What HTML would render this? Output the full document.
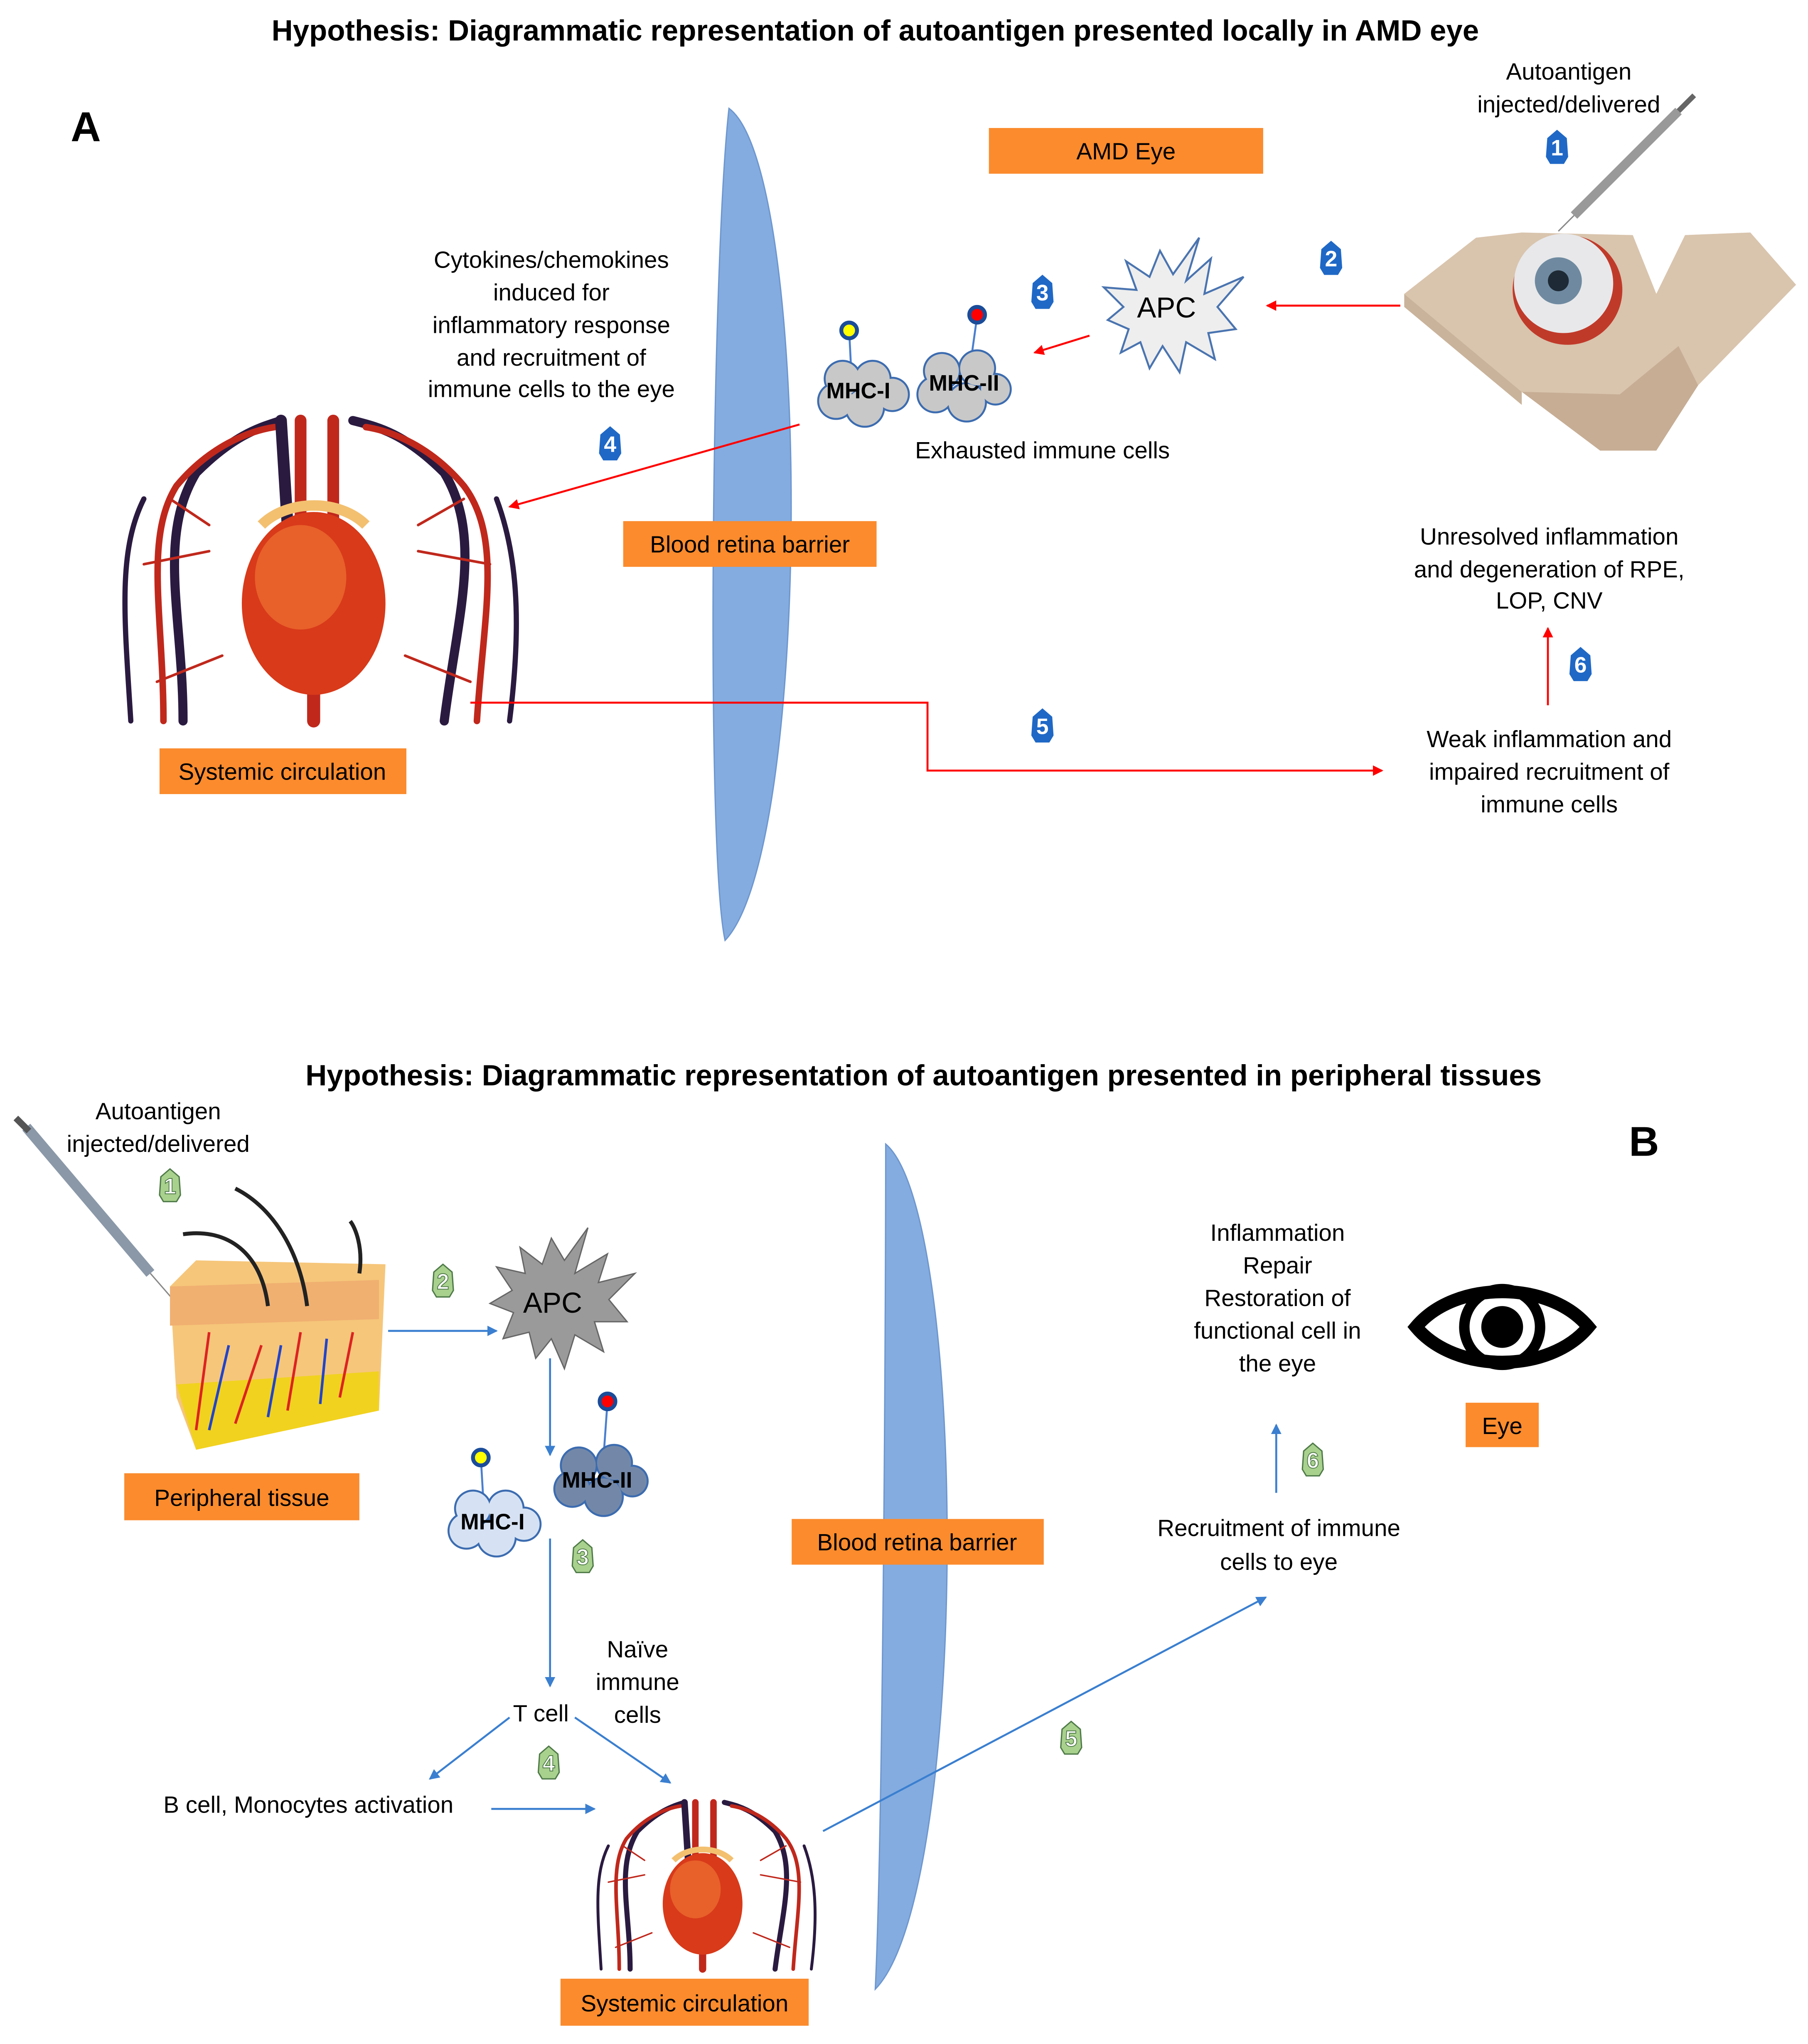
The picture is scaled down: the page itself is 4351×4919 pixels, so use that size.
<!DOCTYPE html>
<html><head><meta charset="utf-8"><style>html,body{margin:0;padding:0;background:#fff}svg{display:block}text{font-family:"Liberation Sans",sans-serif}</style></head>
<body>
<svg width="4351" height="4919" viewBox="0 0 1384 1565" xmlns="http://www.w3.org/2000/svg">
<defs>
<marker id="ar" markerWidth="8" markerHeight="8" refX="7" refY="4" orient="auto" markerUnits="userSpaceOnUse"><path d="M0,0 L8,4 L0,8 Z" fill="#f00"/></marker>
<marker id="ab" markerWidth="8" markerHeight="8" refX="7" refY="4" orient="auto" markerUnits="userSpaceOnUse"><path d="M0,0 L8,4 L0,8 Z" fill="#3a7fd0"/></marker>
<g id="bdg"><polygon points="0,-13 7,-7 8,7 5,12 -5,12 -8,7 -7,-7" /></g>
<g id="heart">
 <g fill="none" stroke-linecap="round">
  <path d="M60,230 C60,150 40,90 70,40 C100,10 120,5 135,0" stroke="#2a1a40" stroke-width="7"/>
  <path d="M260,230 C270,150 290,90 260,40 C230,10 210,5 190,0" stroke="#2a1a40" stroke-width="7"/>
  <path d="M20,230 C15,150 10,100 30,60" stroke="#2a1a40" stroke-width="4"/>
  <path d="M310,230 C320,150 315,100 300,60" stroke="#2a1a40" stroke-width="4"/>
  <path d="M45,230 C45,150 30,90 55,50 C80,20 110,8 130,5" stroke="#c0281c" stroke-width="5"/>
  <path d="M285,230 C290,150 305,90 275,50 C250,20 220,8 200,5" stroke="#c0281c" stroke-width="5"/>
  <path d="M150,0 L150,90 M175,0 L175,90" stroke="#c0281c" stroke-width="9"/>
  <path d="M135,0 L140,80" stroke="#2a1a40" stroke-width="9"/>
  <path d="M80,80 L50,60 M80,100 L30,110 M240,80 L275,60 M240,100 L295,110 M90,180 L40,200 M230,180 L280,200" stroke="#c0281c" stroke-width="2"/>
  <path d="M160,210 L160,230" stroke="#c0281c" stroke-width="10"/>
 </g>
 <ellipse cx="160" cy="140" rx="55" ry="70" fill="#d83a1a"/>
 <ellipse cx="150" cy="120" rx="35" ry="40" fill="#e8602a"/>
 <path d="M120,80 C140,60 180,60 200,80" stroke="#f3c070" stroke-width="8" fill="none"/>
</g>
</defs>

<text x="670" y="31" font-size="22.5" font-weight="bold" text-anchor="middle">Hypothesis: Diagrammatic representation of autoantigen presented locally in AMD eye</text>
<text x="707" y="831" font-size="22.5" font-weight="bold" text-anchor="middle">Hypothesis: Diagrammatic representation of autoantigen presented in peripheral tissues</text>
<text x="54" y="108" font-size="32" font-weight="bold">A</text>
<text x="1247" y="885" font-size="32" font-weight="bold">B</text>

<path d="M558,83 C622,130 622,650 555,720 C540,650 545,200 558,83 Z" fill="#84ace0" stroke="#6d97cf" stroke-width="1"/>
<path d="M678,876 C742,930 742,1450 670,1523 C676,1400 678,1000 678,876 Z" fill="#84ace0" stroke="#6d97cf" stroke-width="1"/>

<g fill="#fb8b2d">
<rect x="757" y="98" width="210" height="35"/>
<rect x="477" y="399" width="194" height="35"/>
<rect x="122" y="573" width="189" height="35"/>
<rect x="95" y="1128" width="180" height="36"/>
<rect x="606" y="1163" width="193" height="35"/>
<rect x="1122" y="1074" width="56" height="34"/>
<rect x="429" y="1515" width="190" height="36"/>
</g>
<g font-size="18" text-anchor="middle">
<text x="862" y="122">AMD Eye</text>
<text x="574" y="423">Blood retina barrier</text>
<text x="216" y="597">Systemic circulation</text>
<text x="185" y="1153">Peripheral tissue</text>
<text x="702" y="1187">Blood retina barrier</text>
<text x="1150" y="1098">Eye</text>
<text x="524" y="1540">Systemic circulation</text>
</g>

<g font-size="18" text-anchor="middle">
<text x="1201" y="61">Autoantigen</text><text x="1201" y="86">injected/delivered</text>
<text x="422" y="205">Cytokines/chemokines</text><text x="422" y="230">induced for</text><text x="422" y="255">inflammatory response</text><text x="422" y="280">and recruitment of</text><text x="422" y="304">immune cells to the eye</text>
<text x="798" y="351">Exhausted immune cells</text>
<text x="1186" y="417">Unresolved inflammation</text><text x="1186" y="442">and degeneration of RPE,</text><text x="1186" y="466">LOP, CNV</text>
<text x="1186" y="572">Weak inflammation and</text><text x="1186" y="597">impaired recruitment of</text><text x="1186" y="622">immune cells</text>
<text x="121" y="857">Autoantigen</text><text x="121" y="882">injected/delivered</text>
<text x="978" y="950">Inflammation</text><text x="978" y="975">Repair</text><text x="978" y="1000">Restoration of</text><text x="978" y="1025">functional cell in</text><text x="978" y="1050">the eye</text>
<text x="979" y="1176">Recruitment of immune</text><text x="979" y="1202">cells to eye</text>
<text x="488" y="1269">Naïve</text><text x="488" y="1294">immune</text><text x="488" y="1319">cells</text>
<text x="414" y="1318">T cell</text>
<text x="236" y="1388">B cell, Monocytes activation</text>
</g>

<path d="M918,182 L908,215 L927,198 L922,225 L952,212 L932,235 L946,252 L925,255 L930,275 L908,262 L903,285 L890,265 L880,282 L873,262 L858,270 L864,252 L848,245 L860,235 L845,220 L870,222 L862,200 L880,212 L888,192 L898,210 Z" fill="#eee" stroke="#4a74b0" stroke-width="1.5"/>
<text x="893" y="243" font-size="22" text-anchor="middle">APC</text>
<path d="M450,940 L440,975 L465,960 L458,982 L486,975 L466,995 L480,1012 L455,1012 L462,1035 L440,1022 L432,1048 L422,1025 L410,1040 L405,1020 L385,1025 L393,1005 L375,998 L392,988 L380,970 L402,975 L398,955 L415,968 L422,948 L432,965 Z" fill="#9a9a9a" stroke="#666" stroke-width="1"/>
<text x="423" y="1005" font-size="22" text-anchor="middle">APC</text>

<g>
<line x1="650" y1="253" x2="652" y2="292" stroke="#4a7fd0" stroke-width="1.5"/>
<line x1="748" y1="242" x2="742" y2="285" stroke="#4a7fd0" stroke-width="1.5"/>
<circle cx="650" cy="253" r="6" fill="#ff0" stroke="#1a4c99" stroke-width="3"/>
<circle cx="748" cy="241" r="6" fill="#f00" stroke="#1a4c99" stroke-width="3"/>
<g stroke="#3c6cb0" stroke-width="3"><circle cx="645" cy="290" r="13"/><circle cx="668" cy="290" r="13"/><circle cx="640" cy="307" r="13"/><circle cx="662" cy="312" r="14"/><circle cx="683" cy="302" r="12"/><circle cx="721" cy="284" r="13"/><circle cx="748" cy="282" r="13"/><circle cx="716" cy="302" r="13"/><circle cx="740" cy="308" r="14"/><circle cx="762" cy="298" r="11"/></g>
<g fill="#c8c8c8"><circle cx="645" cy="290" r="13"/><circle cx="668" cy="290" r="13"/><circle cx="640" cy="307" r="13"/><circle cx="662" cy="312" r="14"/><circle cx="683" cy="302" r="12"/><circle cx="721" cy="284" r="13"/><circle cx="748" cy="282" r="13"/><circle cx="716" cy="302" r="13"/><circle cx="740" cy="308" r="14"/><circle cx="762" cy="298" r="11"/></g>
<text x="657" y="305" font-size="17" font-weight="bold" text-anchor="middle">MHC-I</text>
<text x="738" y="299" font-size="17" font-weight="bold" text-anchor="middle">MHC-II</text>
</g>
<g>
<line x1="368" y1="1116" x2="370" y2="1150" stroke="#4a7fd0" stroke-width="1.5"/>
<line x1="465" y1="1073" x2="462" y2="1115" stroke="#4a7fd0" stroke-width="1.5"/>
<circle cx="368" cy="1116" r="6" fill="#ff0" stroke="#1a4c99" stroke-width="3"/>
<circle cx="465" cy="1073" r="6" fill="#f00" stroke="#1a4c99" stroke-width="3"/>
<g stroke="#3c6cb0" stroke-width="3"><circle cx="362" cy="1155" r="13"/><circle cx="387" cy="1155" r="13"/><circle cx="357" cy="1172" r="13"/><circle cx="380" cy="1177" r="14"/><circle cx="401" cy="1167" r="12"/><circle cx="443" cy="1122" r="13"/><circle cx="470" cy="1120" r="13"/><circle cx="438" cy="1140" r="13"/><circle cx="462" cy="1146" r="14"/><circle cx="484" cy="1134" r="11"/></g>
<g fill="#d6e2f3"><circle cx="362" cy="1155" r="13"/><circle cx="387" cy="1155" r="13"/><circle cx="357" cy="1172" r="13"/><circle cx="380" cy="1177" r="14"/><circle cx="401" cy="1167" r="12"/></g>
<g fill="#7388a8"><circle cx="443" cy="1122" r="13"/><circle cx="470" cy="1120" r="13"/><circle cx="438" cy="1140" r="13"/><circle cx="462" cy="1146" r="14"/><circle cx="484" cy="1134" r="11"/></g>
<text x="377" y="1171" font-size="17" font-weight="bold" text-anchor="middle">MHC-I</text>
<text x="457" y="1139" font-size="17" font-weight="bold" text-anchor="middle">MHC-II</text>
</g>

<g transform="translate(80,322)"><use href="#heart"/></g>
<g transform="translate(449,1380) scale(0.555,0.555)"><use href="#heart"/></g>

<!-- Eye model A -->
<polygon points="1075,225 1130,182 1165,178 1250,180 1268,225 1290,180 1340,178 1375,218 1300,295 1268,345 1225,345 1165,300" fill="#d9c4ad"/>
<polygon points="1165,300 1225,345 1268,345 1300,295 1285,265 1240,302" fill="#c6ad94"/>
<polygon points="1075,225 1165,300 1165,310 1075,235" fill="#c9b39b"/>
<circle cx="1200" cy="222" r="42" fill="#c03a2a"/>
<circle cx="1197" cy="217" r="38" fill="#e8e8ea"/>
<circle cx="1193" cy="215" r="18" fill="#6f8aa0"/>
<circle cx="1193" cy="215" r="8" fill="#1e2a35"/>
<line x1="1205" y1="165" x2="1285" y2="85" stroke="#999" stroke-width="7"/>
<line x1="1285" y1="85" x2="1297" y2="73" stroke="#666" stroke-width="4"/>
<line x1="1205" y1="165" x2="1193" y2="177" stroke="#888" stroke-width="1"/>
<line x1="20" y1="863" x2="115" y2="975" stroke="#8a98a8" stroke-width="8"/>
<line x1="12" y1="856" x2="22" y2="866" stroke="#555" stroke-width="5"/>
<line x1="115" y1="975" x2="135" y2="998" stroke="#888" stroke-width="1"/>

<polygon points="130,985 150,965 295,968 290,1080 150,1110 135,1070" fill="#f6c67a"/>
<polygon points="130,985 290,980 290,1010 130,1015" fill="#f0b070"/>
<polygon points="135,1060 290,1050 290,1080 150,1110" fill="#f1d21f"/>
<g stroke="#d22" stroke-width="2" fill="none"><path d="M150,1095 L160,1020 M180,1090 L200,1030 M220,1080 L230,1020 M260,1070 L270,1020"/></g>
<g stroke="#2244cc" stroke-width="2" fill="none"><path d="M160,1095 L175,1030 M205,1085 L215,1030 M245,1075 L250,1025"/></g>
<g stroke="#222" stroke-width="3" fill="none"><path d="M235,1000 C230,960 210,925 180,910 M205,1000 C200,960 175,940 140,945 M275,975 C278,955 272,940 268,935"/></g>

<path d="M1084,1016 C1114,980 1186,980 1216,1016 C1186,1052 1114,1052 1084,1016 Z" fill="none" stroke="#000" stroke-width="10"/>
<circle cx="1150" cy="1016" r="29" fill="none" stroke="#000" stroke-width="8"/>
<circle cx="1150" cy="1016" r="16" fill="#000"/>

<g stroke="#f00" stroke-width="1.5" fill="none">
<line x1="1072" y1="234" x2="970" y2="234" marker-end="url(#ar)"/>
<line x1="834" y1="257" x2="792" y2="270" marker-end="url(#ar)"/>
<line x1="612" y1="325" x2="390" y2="388" marker-end="url(#ar)"/>
<polyline points="360,538 710,538 710,590 1058,590" marker-end="url(#ar)"/>
<line x1="1185" y1="540" x2="1185" y2="481" marker-end="url(#ar)"/>
</g>
<g stroke="#3a7fd0" stroke-width="1.5" fill="none">
<line x1="297" y1="1019" x2="380" y2="1019" marker-end="url(#ab)"/>
<line x1="421" y1="1040" x2="421" y2="1114" marker-end="url(#ab)"/>
<line x1="421" y1="1178" x2="421" y2="1291" marker-end="url(#ab)"/>
<line x1="390" y1="1315" x2="329" y2="1362" marker-end="url(#ab)"/>
<line x1="440" y1="1315" x2="513" y2="1365" marker-end="url(#ab)"/>
<line x1="376" y1="1385" x2="455" y2="1385" marker-end="url(#ab)"/>
<line x1="630" y1="1402" x2="969" y2="1223" marker-end="url(#ab)"/>
<line x1="977" y1="1143" x2="977" y2="1091" marker-end="url(#ab)"/>
</g>

<g fill="#1f68c6" stroke="#1f68c6">
<use href="#bdg" x="1192" y="113"/><use href="#bdg" x="1019" y="198"/><use href="#bdg" x="798" y="224"/><use href="#bdg" x="467" y="340"/><use href="#bdg" x="798" y="556"/><use href="#bdg" x="1210" y="509"/>
</g>
<g fill="#fff" font-size="17" font-weight="bold" text-anchor="middle">
<text x="1192" y="119">1</text><text x="1019" y="204">2</text><text x="798" y="230">3</text><text x="467" y="346">4</text><text x="798" y="562">5</text><text x="1210" y="515">6</text>
</g>
<g fill="#a9d18e" stroke="#4e7a48" stroke-width="1">
<use href="#bdg" x="130" y="908"/><use href="#bdg" x="339" y="981"/><use href="#bdg" x="446" y="1192"/><use href="#bdg" x="420" y="1350"/><use href="#bdg" x="820" y="1331"/><use href="#bdg" x="1005" y="1118"/>
</g>
<g fill="#fff" stroke="#4e7a48" stroke-width="0.6" font-size="17" font-weight="bold" text-anchor="middle">
<text x="130" y="914">1</text><text x="339" y="987">2</text><text x="446" y="1198">3</text><text x="420" y="1356">4</text><text x="820" y="1337">5</text><text x="1005" y="1124">6</text>
</g>
</svg>
</body></html>
